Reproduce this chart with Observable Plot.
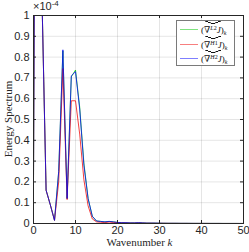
<!DOCTYPE html>
<html><head><meta charset="utf-8">
<script src="https://cdn.jsdelivr.net/npm/d3@7"></script>
<script src="https://cdn.jsdelivr.net/npm/@observablehq/plot@0.6"></script>
<style>
body{margin:0;background:#fff;}
#wrap{position:relative;width:249px;height:252px;overflow:hidden;}
.ov{position:absolute;white-space:nowrap;color:#262626;}
.serif{font-family:"Liberation Serif","DejaVu Serif",serif;}
.sans{font-family:"Liberation Sans",Arial,sans-serif;}
#legend{position:absolute;left:176px;top:20px;width:59px;height:46px;border:1px solid #7a7a7a;background:#fff;box-sizing:border-box;}
.lrow{position:absolute;left:3px;width:54px;height:14px;white-space:nowrap;}
.lline{position:absolute;left:0;top:7px;width:18px;height:0;border-top:1px solid;}
.ltxt{position:absolute;left:21px;top:1px;font-size:9px;line-height:14px;color:#111;white-space:nowrap;}
.hat{position:relative;display:inline-block;line-height:14px;}
.hat::before{content:"";position:absolute;left:1px;right:0;top:-2px;height:3px;
 background:linear-gradient(to top right,transparent 42%,#111 46%,#111 58%,transparent 62%) left/50% 100% no-repeat,
            linear-gradient(to top left,transparent 42%,#111 46%,#111 58%,transparent 62%) right/50% 100% no-repeat;}
.sp{font-size:6px;position:relative;top:-3px;}
.sb{font-size:6px;position:relative;top:2px;}
</style></head><body><div id="wrap"></div>
<script>
const wavenumbers = d3.range(0, 51);
// values in units of 1e-4
const specL2 = [0.20,5.0,1.10,0.16,0.09,0.015,0.25,0.83,0.12,0.705,0.738,0.56,0.29,0.12,0.035,0.012,0.010,0.008,0.010,0.008,0.005,0.004,0.004,0.003,0.003,0.004,0.003,0.002,0.002,0.002,0.0015,0.0012,0.001,0.001,0.001,0.0008,0.0008,0.0007,0.0006,0.0006,0.0005,0.0005,0.0004,0.0004,0.0004,0.0003,0.0003,0.0003,0.0003,0.0002,0.0002];
const specH1 = [0.20,5.0,1.10,0.16,0.09,0.015,0.20,0.745,0.115,0.59,0.59,0.43,0.21,0.085,0.022,0.008,0.006,0.004,0.007,0.005,0.004,0.003,0.003,0.002,0.002,0.003,0.002,0.0015,0.0015,0.0012,0.001,0.001,0.0008,0.0008,0.0007,0.0006,0.0006,0.0005,0.0005,0.0004,0.0004,0.0004,0.0003,0.0003,0.0003,0.0002,0.0002,0.0002,0.0002,0.0002,0.0001];
const specH2 = [0.20,5.0,1.10,0.16,0.09,0.015,0.25,0.835,0.12,0.71,0.73,0.55,0.28,0.12,0.035,0.012,0.010,0.008,0.010,0.008,0.005,0.004,0.004,0.003,0.003,0.004,0.003,0.002,0.002,0.002,0.0015,0.0012,0.001,0.001,0.001,0.0008,0.0008,0.0007,0.0006,0.0006,0.0005,0.0005,0.0004,0.0004,0.0004,0.0003,0.0003,0.0003,0.0003,0.0002,0.0002];
const seriesColors = ["rgb(0,200,0)","rgb(240,0,0)","rgb(0,0,255)"];
const legendSupLetter = ["L","H","H"];
const legendSupPower = ["2","1","2"];
const xTicks = [0,10,20,30,40,50];
const yTicks = [0,0.1,0.2,0.3,0.4,0.5,0.6,0.7,0.8,0.9,1];

const toRows = arr => wavenumbers.map((k,i)=>({k, v: arr[i]}));
const lineOpts = c => ({x:"k", y:"v", stroke:c, strokeWidth:1, strokeOpacity:0.75, clip:true});
const axisColor = "#262626";

const chart = Plot.plot({
  width:249, height:252,
  marginLeft:33, marginRight:6, marginTop:15, marginBottom:29,
  x:{domain:[0,50]}, y:{domain:[0,1]},
  style:{fontFamily:"'Liberation Sans',Arial,sans-serif", fontSize:"11px", color:axisColor, background:"#fff"},
  marks:[
    Plot.gridX(xTicks,{stroke:"#000", strokeOpacity:0.1}),
    Plot.gridY(yTicks,{stroke:"#000", strokeOpacity:0.1}),
    Plot.line(toRows(specL2), lineOpts(seriesColors[0])),
    Plot.line(toRows(specH1), lineOpts(seriesColors[1])),
    Plot.line(toRows(specH2), lineOpts(seriesColors[2])),
    Plot.frame({stroke:axisColor}),
    Plot.tickX(xTicks,{x:d=>d, insetTop:205, stroke:axisColor}),
    Plot.tickX(xTicks,{x:d=>d, insetBottom:205, stroke:axisColor}),
    Plot.tickY(yTicks,{y:d=>d, insetRight:207, stroke:axisColor}),
    Plot.tickY(yTicks,{y:d=>d, insetLeft:207, stroke:axisColor}),
    Plot.axisX(xTicks,{tickSize:0, tickPadding:3, label:null, fill:axisColor}),
    Plot.axisY(yTicks,{tickSize:0, tickPadding:4, label:null, fill:axisColor, tickFormat:d=>String(Math.round(d*10)/10)})
  ]
});
const wrap = document.getElementById("wrap");
wrap.appendChild(chart);

function addDiv(cls, html, css){
  const d = document.createElement("div");
  d.className = cls; d.innerHTML = html; d.style.cssText = css; wrap.appendChild(d); return d;
}
addDiv("ov sans", "×10<span style='font-size:8px;position:relative;top:-4px'>-4</span>", "left:33px;top:0px;font-size:11px;line-height:13px;");
addDiv("ov serif", "Wavenumber <i>k</i>", "left:0;width:249px;text-align:center;padding-left:30px;box-sizing:border-box;top:236px;font-size:11px;");
addDiv("ov serif", "Energy Spectrum", "left:8px;top:119px;font-size:11px;transform:translate(-50%,-50%) rotate(-90deg);transform-origin:center;");

const legend = document.createElement("div");
legend.id = "legend";
seriesColors.forEach((c,i)=>{
  const row = document.createElement("div");
  row.className = "lrow";
  row.style.top = (1 + i*14.5) + "px";
  row.innerHTML = `<div class="lline" style="border-color:${c};opacity:0.5"></div>`+
    `<div class="ltxt serif">(<span class="hat">∇<span class="sp"><i>${legendSupLetter[i]}</i>${legendSupPower[i]}</span><i>J</i></span>)<span class="sb"><i>k</i></span></div>`;
  legend.appendChild(row);
});
wrap.appendChild(legend);
</script>
</body></html>
